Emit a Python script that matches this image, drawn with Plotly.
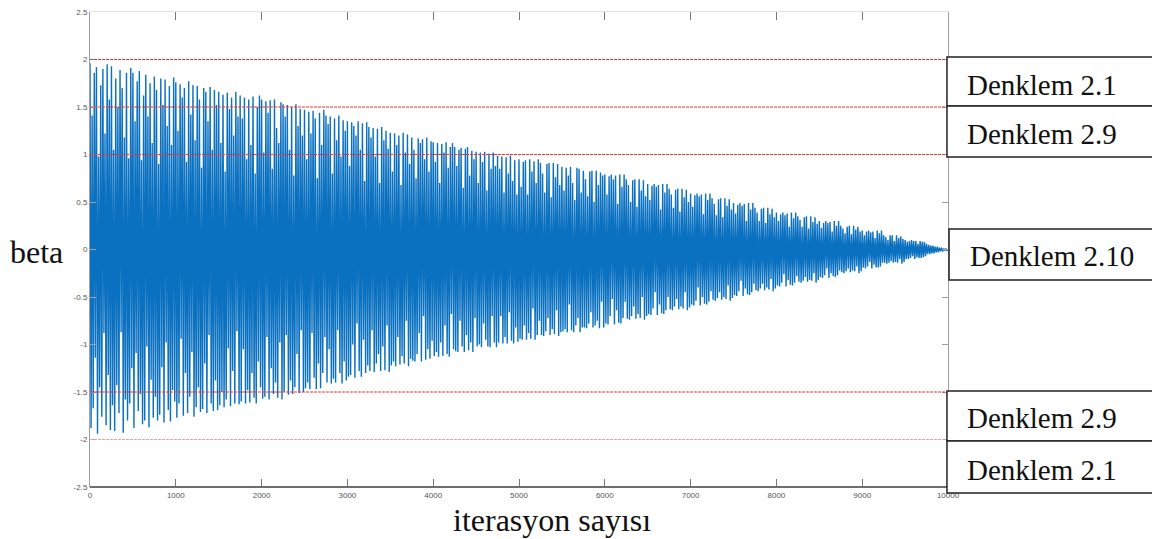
import numpy as np
import plotly.graph_objects as go

# ---- data (values read/estimated from the reference picture) ----
beta = [
    1.96, -1.88, 1.41, -1.67, 1.86, -1.14, 1.92, -1.94, 0.98, -1.45, 1.73, -1.76, 1.90, -0.88, 1.22, -1.85, 1.95, -1.32, 1.58, -1.90,
    1.93, -1.64, 1.05, -1.91, 1.80, -1.43, 1.50, -1.72, 1.89, -0.87, 1.70, -1.93, 1.18, -1.58, 1.86, -1.80, 0.96, -1.62, 1.91, -1.25,
    1.86, -1.88, 1.35, -1.09, 1.77, -1.70, 1.88, -1.52, 0.94, -1.84, 1.62, -1.80, 1.84, -1.02, 1.40, -1.87, 1.75, -1.37, 1.12, -1.77,
    1.82, -1.55, 1.68, -1.80, 0.90, -1.74, 1.80, -1.24, 1.52, -1.82, 1.79, -0.98, 1.30, -1.69, 1.72, -1.81, 1.10, -1.48, 1.81, -1.60,
    1.76, -1.77, 1.25, -1.62, 1.74, -0.94, 1.60, -1.75, 1.70, -1.30, 0.92, -1.72, 1.77, -1.55, 1.42, -1.08, 1.73, -1.76, 1.15, -1.66,
    1.72, -1.45, 1.58, -1.71, 0.86, -1.68, 1.70, -1.20, 1.66, -1.72, 1.35, -0.90, 1.71, -1.62, 1.05, -1.70, 1.68, -1.38, 1.52, -1.69,
    1.66, -1.64, 1.12, -1.50, 1.63, -1.66, 0.82, -1.58, 1.65, -1.04, 1.48, -1.65, 1.60, -1.28, 1.20, -1.62, 1.66, -0.86, 1.40, -1.63,
    1.62, -1.60, 1.38, -1.05, 1.60, -1.62, 0.95, -1.48, 1.58, -1.61, 1.10, -1.30, 1.61, -1.56, 0.80, -1.62, 1.50, -1.18, 1.62, -1.45,
    1.58, -1.57, 1.02, -1.55, 1.56, -0.92, 1.44, -1.58, 1.57, -1.25, 0.85, -1.52, 1.58, -1.40, 1.28, -1.56, 1.12, -0.98, 1.55, -1.58,
    1.53, -1.50, 1.40, -0.90, 1.52, -1.53, 1.05, -1.38, 1.50, -1.52, 0.78, -1.45, 1.53, -1.10, 1.30, -1.51, 1.48, -0.85, 1.20, -1.50,
    1.47, -1.46, 0.95, -1.40, 1.45, -1.47, 1.22, -0.88, 1.46, -1.35, 1.38, -1.47, 0.75, -1.20, 1.44, -1.46, 1.10, -1.30, 1.47, -0.92,
    1.41, -1.40, 1.32, -1.05, 1.40, -1.41, 0.80, -1.36, 1.38, -1.40, 1.15, -0.85, 1.41, -1.30, 0.98, -1.41, 1.36, -1.18, 1.25, -1.38,
    1.35, -1.34, 0.88, -1.32, 1.34, -1.00, 1.30, -1.35, 1.20, -0.78, 1.35, -1.28, 1.05, -1.34, 1.33, -0.95, 0.72, -1.30, 1.34, -1.22,
    1.29, -1.28, 1.18, -0.85, 1.28, -1.29, 0.98, -1.20, 1.27, -1.10, 0.70, -1.28, 1.29, -1.02, 1.15, -1.27, 1.25, -0.80, 1.06, -1.29,
    1.23, -1.22, 0.82, -1.18, 1.22, -1.23, 1.10, -0.92, 1.20, -1.21, 0.68, -1.12, 1.23, -1.20, 1.02, -0.75, 1.21, -1.23, 0.90, -1.15,
    1.18, -1.17, 1.05, -1.18, 0.75, -1.10, 1.17, -0.88, 1.12, -1.18, 1.16, -0.70, 0.95, -1.16, 1.18, -1.05, 0.82, -1.15, 1.14, -0.96,
    1.13, -1.12, 0.92, -1.08, 1.12, -1.13, 0.70, -0.98, 1.11, -1.12, 1.02, -0.80, 1.13, -1.10, 0.86, -1.13, 1.08, -0.68, 1.12, -1.05,
    1.08, -1.07, 0.88, -1.08, 1.05, -0.75, 1.07, -1.02, 0.65, -1.08, 1.06, -0.90, 1.08, -1.06, 0.78, -0.98, 1.04, -1.08, 0.95, -0.72,
    1.03, -1.02, 0.70, -1.00, 1.02, -1.03, 0.92, -0.78, 1.03, -0.95, 0.62, -1.02, 1.01, -1.03, 0.85, -0.70, 1.02, -0.98, 0.88, -1.03,
    0.99, -0.98, 0.85, -0.70, 0.98, -0.99, 0.60, -0.92, 0.97, -0.99, 0.80, -0.66, 0.99, -0.96, 0.72, -0.99, 0.94, -0.82, 0.58, -0.97,
    0.95, -0.94, 0.66, -0.95, 0.92, -0.80, 0.94, -0.95, 0.58, -0.88, 0.95, -0.94, 0.82, -0.62, 0.93, -0.95, 0.70, -0.90, 0.95, -0.75,
    0.91, -0.90, 0.80, -0.91, 0.60, -0.86, 0.90, -0.72, 0.91, -0.90, 0.55, -0.84, 0.91, -0.89, 0.76, -0.64, 0.90, -0.91, 0.68, -0.87,
    0.87, -0.86, 0.62, -0.84, 0.86, -0.87, 0.78, -0.58, 0.87, -0.85, 0.70, -0.87, 0.52, -0.80, 0.86, -0.72, 0.85, -0.87, 0.60, -0.82,
    0.83, -0.82, 0.74, -0.83, 0.56, -0.78, 0.82, -0.66, 0.83, -0.82, 0.50, -0.80, 0.83, -0.75, 0.68, -0.83, 0.81, -0.55, 0.78, -0.82,
    0.79, -0.78, 0.58, -0.79, 0.77, -0.70, 0.79, -0.52, 0.74, -0.79, 0.78, -0.64, 0.48, -0.77, 0.79, -0.78, 0.66, -0.72, 0.79, -0.55,
    0.74, -0.73, 0.68, -0.74, 0.50, -0.70, 0.73, -0.60, 0.74, -0.73, 0.45, -0.68, 0.74, -0.72, 0.62, -0.50, 0.73, -0.74, 0.56, -0.70,
    0.69, -0.68, 0.52, -0.69, 0.67, -0.62, 0.69, -0.45, 0.66, -0.69, 0.68, -0.58, 0.42, -0.67, 0.69, -0.68, 0.60, -0.64, 0.69, -0.50,
    0.64, -0.63, 0.58, -0.64, 0.44, -0.60, 0.63, -0.52, 0.64, -0.63, 0.40, -0.60, 0.64, -0.62, 0.55, -0.45, 0.63, -0.64, 0.50, -0.61,
    0.59, -0.58, 0.45, -0.59, 0.57, -0.54, 0.59, -0.40, 0.56, -0.59, 0.58, -0.50, 0.37, -0.57, 0.59, -0.58, 0.52, -0.55, 0.59, -0.44,
    0.54, -0.53, 0.48, -0.54, 0.36, -0.51, 0.53, -0.45, 0.54, -0.53, 0.34, -0.50, 0.54, -0.52, 0.46, -0.38, 0.53, -0.54, 0.42, -0.51,
    0.49, -0.48, 0.38, -0.49, 0.47, -0.44, 0.49, -0.33, 0.46, -0.49, 0.48, -0.41, 0.30, -0.47, 0.49, -0.48, 0.42, -0.45, 0.49, -0.36,
    0.44, -0.43, 0.39, -0.44, 0.30, -0.41, 0.43, -0.36, 0.44, -0.43, 0.28, -0.40, 0.44, -0.42, 0.37, -0.31, 0.43, -0.44, 0.34, -0.41,
    0.39, -0.38, 0.30, -0.39, 0.37, -0.35, 0.39, -0.26, 0.36, -0.39, 0.38, -0.32, 0.24, -0.37, 0.39, -0.38, 0.33, -0.35, 0.39, -0.28,
    0.35, -0.34, 0.31, -0.35, 0.24, -0.33, 0.34, -0.29, 0.35, -0.34, 0.22, -0.32, 0.35, -0.33, 0.29, -0.25, 0.34, -0.35, 0.27, -0.32,
    0.30, -0.29, 0.23, -0.30, 0.28, -0.27, 0.30, -0.20, 0.28, -0.30, 0.29, -0.25, 0.19, -0.28, 0.30, -0.29, 0.25, -0.27, 0.30, -0.22,
    0.25, -0.24, 0.22, -0.25, 0.17, -0.23, 0.24, -0.20, 0.25, -0.24, 0.16, -0.22, 0.25, -0.23, 0.21, -0.18, 0.24, -0.25, 0.19, -0.23,
    0.20, -0.19, 0.15, -0.20, 0.19, -0.18, 0.20, -0.13, 0.18, -0.20, 0.19, -0.16, 0.12, -0.19, 0.20, -0.19, 0.17, -0.18, 0.20, -0.14,
    0.15, -0.14, 0.13, -0.15, 0.10, -0.14, 0.15, -0.12, 0.15, -0.14, 0.09, -0.13, 0.15, -0.14, 0.12, -0.10, 0.14, -0.15, 0.11, -0.13,
    0.10, -0.10, 0.08, -0.10, 0.09, -0.09, 0.10, -0.07, 0.09, -0.10, 0.09, -0.08, 0.06, -0.09, 0.09, -0.09, 0.08, -0.08, 0.08, -0.07,
    0.06, -0.05, 0.05, -0.05, 0.04, -0.04, 0.04, -0.04, 0.03, -0.03, 0.03, -0.03, 0.02, -0.02, 0.02, -0.02, 0.01, -0.01, 0.01, -0.01,
    0.0,
]
iter_start = 0
iter_end = 10000
iterations = np.linspace(iter_start, iter_end, len(beta))

limit_levels = [2.0, 1.5, 1.0, -1.5, -2.0]

x_tick_vals = [0, 1000, 2000, 3000, 4000, 5000, 6000, 7000, 8000, 9000, 10000]
x_tick_text = ["0", "1000", "2000", "3000", "4000", "5000", "6000", "7000", "8000", "9000", "10000"]
y_tick_vals = [2.5, 2, 1.5, 1, 0.5, 0, -0.5, -1, -1.5, -2, -2.5]
y_tick_text = ["2.5", "2", "1.5", "1", "0.5", "0", "-0.5", "-1", "-1.5", "-2", "-2.5"]

box_labels = ["Denklem 2.1", "Denklem 2.9", "Denklem 2.10", "Denklem 2.9", "Denklem 2.1"]

# ---- figure ----
fig = go.Figure()
fig.add_trace(go.Scatter(
    x=iterations, y=beta, mode="lines",
    line=dict(color="#0a70c0", width=1.4),
    hoverinfo="skip", showlegend=False,
))

shapes = []
for lv in limit_levels:
    col = "#f03030" if lv != -2.0 else "#f4a0a0"
    shapes.append(dict(
        type="line", xref="x", yref="y", x0=iter_start, x1=iter_end, y0=lv, y1=lv,
        line=dict(color=col, width=1, dash="3px,1px"),
        layer="above",
    ))

# bottom axis line (darker) and light top border
shapes.append(dict(type="line", xref="paper", yref="paper", x0=0, x1=1, y0=0, y1=0,
                   line=dict(color="#6e6e6e", width=2), layer="above"))

# label boxes (paper coordinates)
box_geom = [
    (0.9988, 0.9053, 0.8021),
    (0.9988, 0.8021, 0.6947),
    (1.0012, 0.5432, 0.4358),
    (0.9988, 0.2021, 0.0968),
    (0.9988, 0.0968, -0.0126),
]
for (x0, y0, y1) in box_geom:
    shapes.append(dict(type="rect", xref="paper", yref="paper", x0=x0, x1=1.245, y0=y1, y1=y0,
                       line=dict(color="#222222", width=1.5), fillcolor="white", layer="above"))

annotations = []
text_pos = [(1.0198, 0.846), (1.0198, 0.743), (1.0233, 0.4863), (1.0198, 0.1453), (1.0198, 0.0358)]
for lbl, (tx, ty) in zip(box_labels, text_pos):
    annotations.append(dict(text=lbl, xref="paper", yref="paper", x=tx, y=ty,
                            xanchor="left", yanchor="middle", showarrow=False,
                            font=dict(family="Liberation Serif", size=29, color="#111111")))

annotations.append(dict(text="beta", xref="paper", yref="paper", x=-0.0618, y=0.4947,
                        xanchor="center", yanchor="middle", showarrow=False,
                        font=dict(family="Liberation Serif", size=32, color="#111111")))
annotations.append(dict(text="iterasyon sayısı", xref="paper", yref="paper", x=0.5385, y=-0.0695,
                        xanchor="center", yanchor="middle", showarrow=False,
                        font=dict(family="Liberation Serif", size=32, color="#111111")))

fig.update_layout(
    width=1152, height=539,
    margin=dict(l=90, r=204, t=12, b=52, autoexpand=False),
    paper_bgcolor="white", plot_bgcolor="white",
    shapes=shapes, annotations=annotations,
    showlegend=False,
)
fig.update_xaxes(
    range=[iter_start, iter_end], tickvals=x_tick_vals, ticktext=x_tick_text,
    showgrid=False, zeroline=False, showline=True, linecolor="#e4e4e4", linewidth=1,
    mirror="allticks", ticks="inside", ticklen=8, tickcolor="#777777", automargin=False,
    tickfont=dict(family="Liberation Sans", size=8, color="#555555"),
)
fig.update_yaxes(
    range=[-2.5, 2.5], tickvals=y_tick_vals, ticktext=y_tick_text,
    showgrid=False, zeroline=False, showline=True, linecolor="#a0a0a0", linewidth=1,
    mirror="allticks", ticks="inside", ticklen=6, tickcolor="#a0a0a0", automargin=False,
    tickfont=dict(family="Liberation Sans", size=8, color="#555555"),
)

fig.write_html("out.html", config={"displayModeBar": False},
               post_script="document.body.style.margin='0';document.body.style.overflow='hidden';")
